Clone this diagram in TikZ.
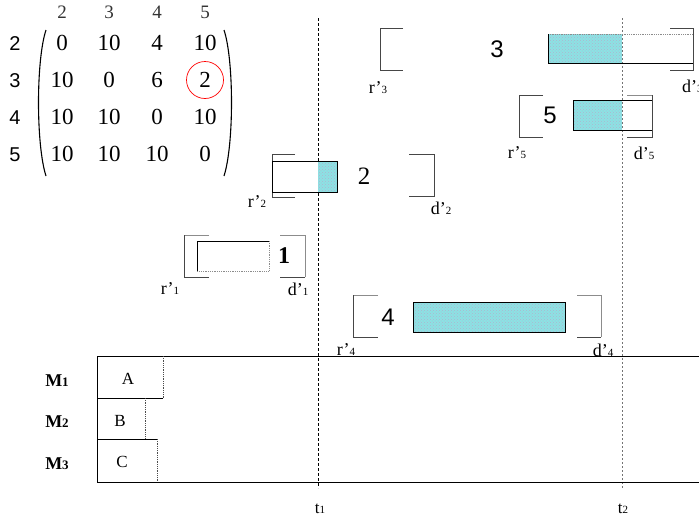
\documentclass[tikz,border=0pt]{standalone}
\usepackage{fontspec}
\usetikzlibrary{patterns}
\setmainfont{Liberation Serif}
\newfontfamily\sansf{Liberation Sans}
\definecolor{shadec}{RGB}{140,226,228}
\definecolor{dotc}{RGB}{175,180,205}
\definecolor{brkc}{RGB}{70,70,70}
\newcommand{\fs}[1]{\fontsize{#1}{#1}\selectfont}
\newcommand{\sub}[1]{{\fs{11}#1}}
\begin{document}
\begin{tikzpicture}[x=1pt,y=-1pt,
  brk/.style={draw=brkc,line width=0.8pt},
  lightbrk/.style={draw=black!45,line width=0.8pt},
  edge/.style={draw=black,line width=0.8pt},
  dotedge/.style={draw=black!45,line width=0.8pt,densely dotted},
  shd/.style={fill=shadec,postaction={pattern=crosshatch dots,pattern color=dotc}},
  lbl/.style={font=\fs{18},inner sep=0pt},
  tnum/.style={font=\sansf\fs{24},inner sep=0pt},
  tnums/.style={font=\fs{25},inner sep=0pt},
  ent/.style={font=\fs{23},inner sep=0pt},
  hdr/.style={font=\fs{19},text=black!80,inner sep=0pt},
  rowl/.style={font=\sansf\fs{20},inner sep=0pt},
  mlab/.style={font=\bfseries\fs{18},inner sep=0pt},
  cell/.style={font=\fs{17},inner sep=0pt},
  tline1/.style={draw=black,line width=0.7pt,dash pattern=on 3pt off 2pt},
  tline2/.style={draw=black!55,line width=0.6pt,dash pattern=on 2pt off 2pt}]
\useasboundingbox (0,0) rectangle (699,525);

% ---- matrix ----
\foreach \c/\x in {2/62,3/109,4/157,5/205}{\node[hdr] (h\c) at (\x,12) {\c};}
\foreach \r/\y in {2/44,3/81,4/118,5/155}{\node[rowl] (rl\r) at (15,\y) {\r};}
\node[ent] (m11) at (62,43) {0};   \node[ent] (m12) at (109,43) {10};
\node[ent] (m13) at (157,43) {4};  \node[ent] (m14) at (205,43) {10};
\node[ent] (m21) at (62,80) {10};  \node[ent] (m22) at (109,80) {0};
\node[ent] (m23) at (157,80) {6};  \node[ent] (m24) at (205,80) {2};
\node[ent] (m31) at (62,117) {10}; \node[ent] (m32) at (109,117) {10};
\node[ent] (m33) at (157,117) {0}; \node[ent] (m34) at (205,117) {10};
\node[ent] (m41) at (62,154) {10}; \node[ent] (m42) at (109,154) {10};
\node[ent] (m43) at (157,154) {10};\node[ent] (m44) at (205,154) {0};
\draw[line width=1.1pt] (46,30) .. controls (36,60) and (36,145) .. (46,176);
\draw[line width=1.1pt] (224,30) .. controls (234,60) and (234,145) .. (224,176);
\draw[red,line width=0.7pt] (m24) circle[radius=18.5];

% ---- time lines ----
\coordinate (t1top) at (318,18); \coordinate (t1bot) at (318,488);
\coordinate (t2top) at (622,18); \coordinate (t2bot) at (622,488);
\draw[tline1] (t1top) -- (t1bot);
\draw[tline2] (t2top) -- (t2bot);
\node[lbl,font=\fs{17}] (t1) at (320,509) {t\sub{1}};
\node[lbl,font=\fs{17}] (t2) at (623,509) {t\sub{2}};

% ---- task 3 ----
\draw[brk] (403,28) -- (380,28) -- (380,70) -- (403,70);
\node[lbl] (r3) at (378,88) {r’\sub{3}};
\path[shd] (548,34) rectangle (622,63);
\draw[dotedge] (548,34) -- (693,34);
\draw[edge] (548,34) -- (548,63) -- (693,63);
\draw[brk] (670,28) -- (693,28) -- (693,70) -- (670,70);
\node[tnum] (n3) at (497,49) {3};
\node[lbl,anchor=west] (d3) at (682,86) {d’\sub{3}};

% ---- task 5 ----
\draw[brk] (543,95) -- (519,95) -- (519,137) -- (543,137);
\node[tnum] (n5) at (550,115) {5};
\path[shd] (573,100) rectangle (622,130);
\draw[edge] (573,100) rectangle (652,130);
\draw[lightbrk] (627,95) -- (652,95);
\draw[brk] (652,95) -- (652,137) -- (627,137);
\node[lbl] (r5) at (517,153) {r’\sub{5}};
\node[lbl] (d5) at (644,153) {d’\sub{5}};

% ---- task 2 ----
\draw[brk] (295,154) -- (272,154) -- (272,197) -- (295,197);
\path[shd] (318,161) rectangle (337,192);
\draw[edge] (272,161) rectangle (337,192);
\draw[brk] (409,154) -- (434,154) -- (434,196) -- (409,196);
\node[tnums] (n2) at (364,176) {2};
\node[lbl] (r2) at (257,202) {r’\sub{2}};
\node[lbl] (d2) at (441,208) {d’\sub{2}};

% ---- task 1 ----
\draw[lightbrk] (209,235) -- (184,235);
\draw[brk] (184,235) -- (184,277) -- (209,277);
\draw[edge] (197,271) -- (197,241) -- (269,241);
\draw[dotedge] (269,241) -- (269,271) -- (197,271);
\draw[lightbrk] (280,235) -- (305,235) -- (305,277);
\draw[brk] (305,277) -- (280,277);
\node[tnums,font=\bfseries\fs{24}] (n1) at (284,256) {1};
\node[lbl] (r1) at (170,289) {r’\sub{1}};
\node[lbl] (d1) at (298,289) {d’\sub{1}};

% ---- task 4 ----
\draw[lightbrk] (378,295) -- (353,295);
\draw[brk] (353,295) -- (353,337) -- (378,337);
\node[tnum] (n4) at (388,317) {4};
\path[shd] (413,302) rectangle (565,332);
\draw[edge] (413,302) rectangle (565,332);
\draw[lightbrk] (577,295) -- (601,295) -- (601,337);
\draw[brk] (601,337) -- (577,337);
\node[lbl] (r4) at (346,350) {r’\sub{4}};
\node[lbl] (d4) at (603,350) {d’\sub{4}};

% ---- Gantt ----
\draw[edge] (699,356) -- (97,356) -- (97,482) -- (699,482);
\draw[edge] (97,398) -- (163,398);
\draw[edge] (97,439) -- (157,439);
\draw[dotedge,draw=black!70] (163,356) -- (163,398);
\draw[dotedge,draw=black!70] (145,398) -- (145,439);
\draw[dotedge,draw=black!70] (157,439) -- (157,482);
\node[cell] (A) at (128,379) {A};
\node[cell] (B) at (120,421) {B};
\node[cell] (C) at (122,462) {C};
\node[mlab] (M1) at (57,381) {M{\fs{13}1}};
\node[mlab] (M2) at (57,422) {M{\fs{13}2}};
\node[mlab] (M3) at (57,464) {M{\fs{13}3}};
\end{tikzpicture}
\end{document}
